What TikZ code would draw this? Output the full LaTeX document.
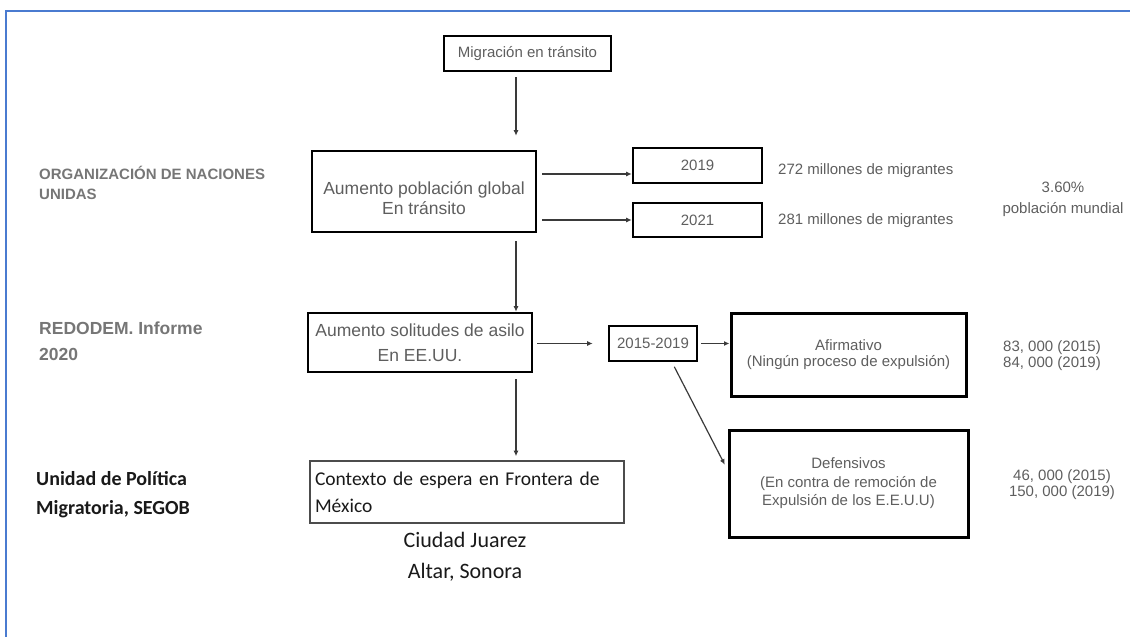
\documentclass[tikz,border=0pt]{standalone}
\usepackage{fontspec}
\setmainfont{Liberation Sans}
\newfontfamily\calibri{Carlito}
\usetikzlibrary{arrows.meta}
\definecolor{marco}{HTML}{4A7BD0}
\definecolor{gristxt}{HTML}{5E5E5E}
\definecolor{grislab}{HTML}{767676}
\definecolor{linea}{HTML}{3A3A3A}

\begin{document}
\begin{tikzpicture}[x=1pt,y=-1pt,
  caja/.style={draw=black,line width=2.6pt,inner sep=0pt,align=center,text=gristxt},
  dato/.style={inner sep=0pt,align=center,text=gristxt},
  etiq/.style={inner sep=0pt,align=left,anchor=west},
  flecha/.style={draw=linea,line width=1.2pt,-{Latex[length=5.5pt,width=5pt]}}]
\useasboundingbox (0,0) rectangle (1130,637);
\draw[marco,line width=2.5pt] (6,637) -- (6,11) -- (1130,11); % marco azul
% columna izquierda
\node[etiq,text=grislab,font=\bfseries\fontsize{15}{20}\selectfont] (onu) at (39,183) {ORGANIZACIÓN DE NACIONES\\UNIDAS};
\node[etiq,text=grislab,font=\bfseries\fontsize{17.5}{26}\selectfont] (redo) at (39,341) {REDODEM. Informe\\2020};
\node[etiq,text=black!90,font=\calibri\bfseries\fontsize{20}{29}\selectfont] (upm) at (36,494.5) {Unidad de Política\\Migratoria, SEGOB};
% fila 1
\node[caja,minimum width=167pt,minimum height=35pt,font=\fontsize{15}{18}\selectfont] (mig) at (527.5,53.5) {Migración en tránsito};
\node[caja,minimum width=224pt,minimum height=81pt,text height=50pt,text depth=4pt,font=\fontsize{17.5}{20}\selectfont] (pob) at (424,191.5) {Aumento población global\\En tránsito};
\node[caja,minimum width=129pt,minimum height=35pt,font=\fontsize{15}{18}\selectfont] (a19) at (697.5,165.5) {2019};
\node[caja,minimum width=129pt,minimum height=34pt,font=\fontsize{15}{18}\selectfont] (a21) at (697.5,220) {2021};
\node[dato,anchor=west,font=\fontsize{15}{18}\selectfont] (m272) at (778,171) {272 millones de migrantes};
\node[dato,anchor=west,font=\fontsize{15}{18}\selectfont] (m281) at (778,221) {281 millones de migrantes};
\node[dato,font=\fontsize{15}{21}\selectfont] (pct) at (1063,199.5) {3.60\%\\población mundial};
% fila 2
\node[caja,minimum width=224pt,minimum height=59pt,font=\fontsize{17.5}{25}\selectfont] (asil) at (420,342.5) {Aumento solitudes de asilo\\En EE.UU.};
\node[caja,minimum width=88pt,minimum height=35pt,font=\fontsize{15}{18}\selectfont] (per) at (653,343.5) {2015-2019};
\node[caja,line width=3pt,minimum width=235pt,minimum height=83pt,font=\fontsize{15}{16}\selectfont] (afi) at (848.5,354.5) {Afirmativo\\(Ningún proceso de expulsión)};
\node[dato,font=\fontsize{15}{16}\selectfont] (n83) at (1052,356) {83, 000 (2015)\\84, 000 (2019)};
% fila 3
\node[draw=gray!60!black,line width=1.6pt,minimum width=314pt,minimum height=62pt,text width=304pt,inner xsep=5pt,inner ysep=0pt,align=left,text=black!90,font=\calibri\fontsize{19.5}{27}\selectfont] (ctx) at (467,492) {Contexto de espera en Frontera de\\México};
\node[dato,text=black!90,font=\calibri\fontsize{22}{31}\selectfont] (ciu) at (465,556.5) {Ciudad Juarez\\Altar, Sonora};
\node[caja,line width=3pt,minimum width=239pt,minimum height=107pt,font=\fontsize{15}{18.5}\selectfont] (def) at (848.5,483.5) {Defensivos\\(En contra de remoción de\\Expulsión de los E.E.U.U)};
\node[dato,font=\fontsize{15}{16}\selectfont] (n46) at (1062,485) {46, 000 (2015)\\150, 000 (2019)};
% flechas
\coordinate (eje) at (516,0);
\draw[flecha,shorten <=5pt,shorten >=14pt] (mig.south -| eje) -- (pob.north -| eje);
\draw[flecha,shorten <=8pt] (pob.south -| eje) -- (asil.north -| eje);
\draw[flecha,shorten <=6pt,shorten >=4pt] (asil.south -| eje) -- (ctx.north -| eje);
\draw[flecha,shorten <=5pt] ([yshift=-8.5pt]a19.west -| pob.east) -- ([yshift=-8.5pt]a19.west);
\draw[flecha,shorten <=5pt] (a21.west -| pob.east) -- (a21.west);
\draw[flecha,shorten <=4pt,shorten >=15pt] (asil.east |- per.west) -- (per.west);
\draw[flecha,shorten <=3pt] (per.east) -- (per.east -| afi.west);
\draw[flecha,shorten <=5pt,shorten >=6pt] ([xshift=19pt]per.south) -- ([yshift=13.5pt]def.west);
\end{tikzpicture}
\end{document}
